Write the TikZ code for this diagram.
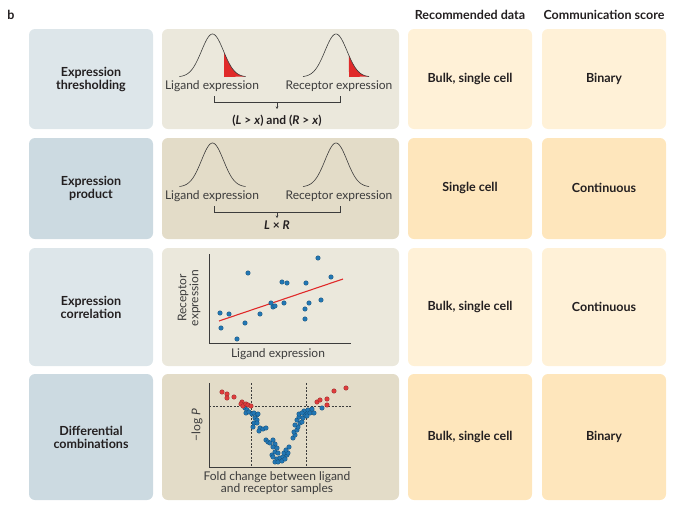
\documentclass[tikz,border=0pt]{standalone}
\usepackage{fontspec}
\setmainfont{Lato}
\usetikzlibrary{arrows.meta}
\usetikzlibrary{positioning}

\definecolor{methodA}{HTML}{DDE6EA}
\definecolor{methodB}{HTML}{CCDAE1}
\definecolor{panelA}{HTML}{EBE8DC}
\definecolor{panelB}{HTML}{E3DCC8}
\definecolor{dataA}{HTML}{FFF1D7}
\definecolor{dataB}{HTML}{FEE6BC}
\definecolor{inkdark}{HTML}{231F20}
\definecolor{inkgray}{HTML}{3C3C3C}
\definecolor{tailred}{HTML}{E02A2A}
\definecolor{dotblue}{HTML}{2277B4}
\definecolor{dotred}{HTML}{DF3C3C}

\tikzset{
  cell/.style={rounded corners=6pt},
  head/.style={font=\bfseries\fontsize{12.5}{14}\selectfont, text=inkdark},
  rowlabel/.style={font=\bfseries\fontsize{12.5}{13}\selectfont, text=inkdark, align=center},
  celltext/.style={font=\bfseries\fontsize{12.5}{14}\selectfont, text=inkdark},
  axlabel/.style={font=\fontsize{12}{12}\selectfont, text=inkgray, align=center, inner sep=1pt},
  formula/.style={font=\bfseries\fontsize{12}{14}\selectfont, text=inkdark},
  curve/.style={draw=inkgray, line width=0.6pt},
  bracket/.style={draw=inkgray, line width=0.5pt},
  arr/.style={bracket, -{Stealth[length=2.5pt, width=2.5pt]}},
  axis/.style={draw=inkgray, line width=0.5pt},
  cut/.style={draw=inkgray, line width=0.45pt, dash pattern=on 2pt off 1.5pt},
  bluedot/.style={fill=dotblue, draw=dotblue!60!black, line width=0.25pt},
  reddot/.style={fill=dotred, draw=dotred!60!black, line width=0.25pt},
}

\begin{document}
\begin{tikzpicture}[x=1pt, y=-1pt]
  \useasboundingbox (0,0) rectangle (677,509);

  % headers
  \node[head] (tag) at (11,15) {b};
  \node[head] (hdata) at (470,15) {Recommended data};
  \node[head] (hscore) at (604,15) {Communication score};

  % cells of the four rows
  \foreach \top/\bot/\tint in {29/129/A, 138/239/B, 248/366/A, 374/500/B} {
    \fill[cell, fill=method\tint] (29,\top) rectangle (153,\bot);
    \fill[cell, fill=panel\tint] (162,\top) rectangle (399,\bot);
    \fill[cell, fill=data\tint] (408,\top) rectangle (532,\bot);
    \fill[cell, fill=data\tint] (542,\top) rectangle (666,\bot);
  }

  \node[rowlabel] (m1) at (91,79) {Expression\\thresholding};
  \node[rowlabel] (m2) at (91,188) {Expression\\product};
  \node[rowlabel] (m3) at (91,307) {Expression\\correlation};
  \node[rowlabel] (m4) at (91,437) {Differential\\combinations};

  \node[celltext] (d1) at (470,79) {Bulk, single cell};
  \node[celltext] (d2) at (470,188) {Single cell};
  \node[celltext] (d3) at (470,307) {Bulk, single cell};
  \node[celltext] (d4) at (470,437) {Bulk, single cell};

  \node[celltext] (s1) at (604,79) {Binary};
  \node[celltext] (s2) at (604,188) {Continuous};
  \node[celltext] (s3) at (604,307) {Continuous};
  \node[celltext] (s4) at (604,437) {Binary};

  % thresholding
  \fill[tailred] (224,77) -- plot[domain=1.05:3, samples=30] ({212.5+11*\x},{77-43*exp(-0.5*(\x)*(\x))}) -- cycle;
  \fill[tailred] (349,77) -- plot[domain=1.18:3, samples=30] ({336+11*\x},{77-43*exp(-0.5*(\x)*(\x))}) -- cycle;
  \draw[curve] plot[domain=-3:3, samples=61, smooth] ({212.5+11*\x},{77-43*exp(-0.5*(\x)*(\x))});
  \draw[curve] plot[domain=-3:3, samples=61, smooth] ({336+11*\x},{77-43*exp(-0.5*(\x)*(\x))});
  \node[axlabel] (lig1) at (212,86) {Ligand expression};
  \node[axlabel] (rec1) at (339,86) {Receptor expression};
  \coordinate (br1) at (277,102);
  \coordinate (tip1) at (277,109);
  \draw[bracket] (214,96) -- (214,102) -- (340,102) -- (340,96);
  \draw[arr] (br1) -- (tip1);
  \node[formula] (f1) at (277,121) {(\textit{L} > \textit{x}) and (\textit{R} > \textit{x})};

  % product
  \draw[curve] plot[domain=-3:3, samples=61, smooth] ({212.5+11*\x},{187-44*exp(-0.5*(\x)*(\x))});
  \draw[curve] plot[domain=-3:3, samples=61, smooth] ({336+11*\x},{187-44*exp(-0.5*(\x)*(\x))});
  \node[axlabel] (lig2) at (212,196) {Ligand expression};
  \node[axlabel] (rec2) at (339,196) {Receptor expression};
  \coordinate (br2) at (277,212);
  \coordinate (tip2) at (277,218);
  \draw[bracket] (214,206) -- (214,212) -- (340,212) -- (340,206);
  \draw[arr] (br2) -- (tip2);
  \node[formula] (f2) at (277,225) {\textit{L} × \textit{R}};

  % correlation
  \draw[axis] (209,254) -- (209,343) -- (351,343);
  \node[axlabel] (lig3) at (278,354) {Ligand expression};
  \node[axlabel, rotate=90] (rec3) at (189,298) {Receptor\\expression};
  \draw[tailred, line width=1.1pt] (219,321) -- (343,279);
  \foreach \x/\y in {318/258, 248/273, 331/277, 282/282, 287/283, 306/283, 321/300,
      271/303, 284/303, 309/303, 273/307, 275/306, 305/309, 220/313, 229/314,
      260/314, 305/319, 245/323, 221/328, 237/339}
    \fill[bluedot] (\x,\y) circle[radius=2.3pt];

  % differential combinations
  \draw[cut] (251,383) -- (251,467);
  \draw[cut] (306,383) -- (306,467);
  \draw[cut] (209,406) -- (351,406);
  \draw[axis] (209,383) -- (209,467) -- (351,467);
  \node[axlabel, rotate=90] (logp) at (197,425) {−log \textit{P}};
  \node[axlabel] (fold) at (277,483) {Fold change between ligand\\and receptor samples};
  \foreach \x/\y in {245/408, 247/410, 246/413, 249/412, 252/414, 254/413, 257/415,
      258/414, 255/418, 257/420, 254/423, 257/423, 253/427, 260/428, 263/429,
      266/428, 259/431, 266/440, 268/442, 270/443, 273/440, 275/444, 273/447,
      277/448, 275/452, 278/453, 272/455, 273/457, 277/459, 280/458, 283/457,
      275/462, 278/462, 282/461, 285/459, 287/455, 284/453, 288/453, 286/450,
      289/447, 293/438, 295/435, 294/432, 297/430, 298/427, 295/425, 300/423,
      302/422, 297/420, 299/417, 303/418, 305/415, 307/413, 304/411, 308/410,
      310/413, 314/413, 312/409, 307/416, 322/408, 299/414, 302/413}
    \fill[bluedot] (\x,\y) circle[radius=2.3pt];
  \foreach \x/\y in {222/392, 227/394, 227/398, 234/397, 242/402, 241/404, 243/406,
      246/404, 248/405, 251/406, 317/402, 320/400, 327/399, 327/405, 334/391, 346/388}
    \fill[reddot] (\x,\y) circle[radius=2.3pt];
\end{tikzpicture}
\end{document}
